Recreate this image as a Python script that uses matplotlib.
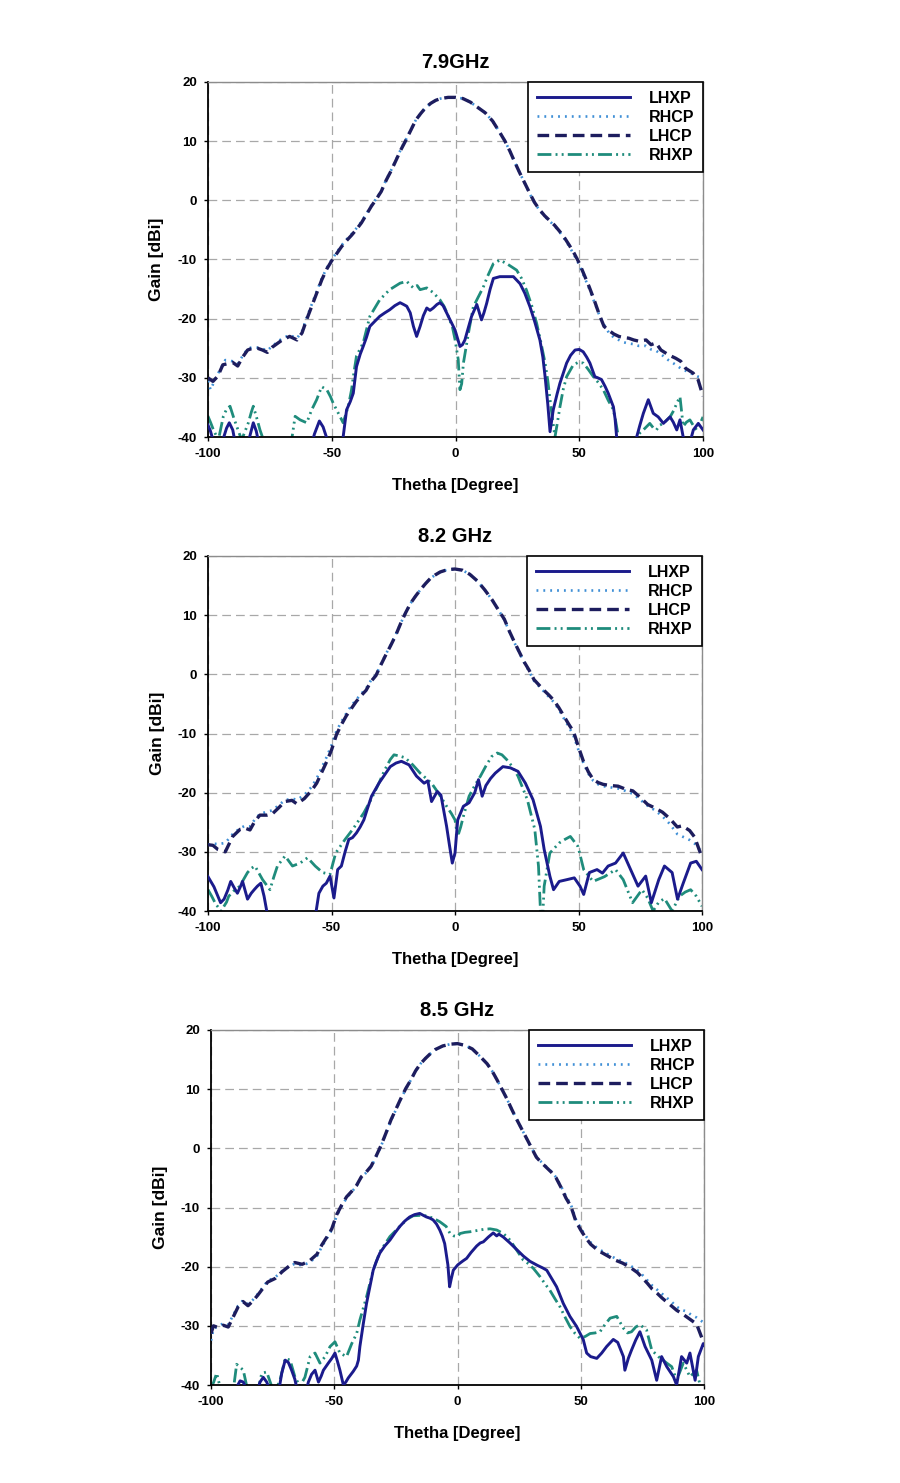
import matplotlib
matplotlib.use("Agg")
import matplotlib.pyplot as plt
from matplotlib.lines import Line2D

# ---------------- data ----------------
titles = ["7.9GHz", "8.2 GHz", "8.5 GHz"]
series_names = ["LHXP", "RHCP", "LHCP", "RHXP"]
x_ticks = [-100, -50, 0, 50, 100]
y_ticks = [-40, -30, -20, -10, 0, 10, 20]

# ---- 7.9 GHz ----
f79_lhcp_theta = [-100, -98, -96, -94, -92, -90, -88, -86, -84, -82, -80, -78, -76, -74, -72, -70, -67, -64, -62, -60,
                  -58, -56, -54, -52, -50, -48, -46, -44, -42, -40, -38, -36, -34, -32, -30, -28, -26, -24, -22, -20,
                  -18, -16, -14, -12, -10, -8, -6, -3, 0, 3, 6, 9, 12, 15, 18, 20, 22, 24, 26, 28, 30, 32, 34, 36, 38,
                  40, 42, 44, 46, 48, 50, 52, 54, 56, 58, 60, 62, 64, 66, 68, 70, 72, 74, 77, 79, 81, 83, 86, 89, 91,
                  93, 96, 98, 100]
f79_lhcp_gain = [-30.0, -30.6, -29.7, -27.8, -27.6, -27.4, -28.0, -26.5, -25.3, -25.0, -25.0, -25.3, -25.7, -24.8,
                 -24.2, -23.6, -23.0, -23.6, -22.4, -20.0, -17.8, -15.6, -13.4, -11.6, -10.2, -9.0, -7.8, -6.8, -5.9,
                 -4.9, -3.8, -2.4, -1.0, 0.2, 1.5, 3.4, 5.0, 6.8, 8.6, 10.2, 11.9, 13.6, 14.7, 15.7, 16.4, 16.9, 17.2,
                 17.4, 17.4, 17.2, 16.6, 15.7, 14.8, 13.4, 11.4, 10.0, 8.3, 6.4, 4.6, 2.9, 1.2, -0.4, -1.6, -2.6, -3.4,
                 -4.2, -5.2, -6.3, -7.6, -9.0, -10.6, -12.6, -14.6, -16.8, -19.2, -21.3, -22.0, -22.6, -23.0, -23.2,
                 -23.3, -23.6, -23.8, -23.6, -24.4, -24.1, -25.3, -26.1, -26.7, -27.2, -28.4, -29.2, -30.3, -33.1]
f79_rhcp_theta = [-100, -99, -97, -95, -93, -90, -88, -86, -84, -82, -80, -78, -76, -74, -72, -70, -67, -64, -62, -60,
                  -58, -56, -54, -52, -50, -48, -46, -44, -42, -40, -38, -36, -34, -32, -30, -28, -26, -24, -22, -20,
                  -18, -16, -14, -12, -10, -8, -6, -3, 0, 3, 6, 9, 12, 15, 18, 20, 22, 24, 26, 28, 30, 32, 34, 36, 38,
                  40, 42, 44, 46, 48, 50, 52, 54, 56, 58, 60, 62, 64, 66, 68, 70, 72, 74, 77, 79, 81, 83, 86, 89, 91,
                  93, 96, 98, 100]
f79_rhcp_gain = [-30.5, -32.0, -30.2, -28.5, -27.0, -27.2, -27.6, -26.3, -25.1, -24.8, -24.9, -25.1, -25.4, -24.6,
                 -24.0, -23.3, -22.8, -23.3, -22.1, -19.7, -17.5, -15.3, -13.2, -11.4, -10.0, -8.8, -7.6, -6.6, -5.7,
                 -4.7, -3.6, -2.3, -0.9, 0.3, 1.6, 3.5, 5.1, 6.9, 8.7, 10.3, 12.0, 13.6, 14.7, 15.7, 16.4, 16.9, 17.2,
                 17.4, 17.4, 17.2, 16.6, 15.7, 14.8, 13.4, 11.4, 10.0, 8.3, 6.4, 4.6, 2.9, 1.1, -0.5, -1.7, -2.7, -3.5,
                 -4.3, -5.3, -6.5, -7.8, -9.3, -10.9, -12.9, -14.9, -17.1, -19.3, -21.0, -22.4, -23.2, -23.6, -24.0,
                 -24.2, -24.3, -24.6, -24.6, -25.2, -25.4, -26.0, -27.0, -27.8, -28.4, -28.8, -29.4, -29.8, -30.0]
f79_lhxp_theta = [-100, -99, -98, -96, -94, -92.5, -91.4, -90, -89, -86, -83.5, -81.7, -80.5, -79.5, -70, -58, -57,
                  -55, -53.5, -52, -50, -46, -45.4, -44, -42.5, -41.3, -40, -38.5, -37.3, -36, -34.6, -32.5, -30.6,
                  -28.5, -26.6, -24.5, -22.4, -21, -19.7, -18.3, -17, -15.7, -14.3, -13, -11.6, -10.3, -9, -7.5, -6.3,
                  -5, -3.6, -2.2, -0.2, 1.8, 2.8, 3.8, 5.2, 6.5, 8.6, 9.5, 10.5, 11.5, 12.6, 14, 15.3, 17.9, 20.5,
                  23.4, 26.1, 28, 30.1, 32, 34.1, 35.3, 36.2, 37.3, 38.2, 39.5, 41, 42.2, 44.9, 46.5, 48.3, 50, 51.6,
                  53, 54.3, 56.3, 57.5, 59, 60.5, 61.7, 63.8, 64.5, 65.1, 66, 72, 73.2, 74.5, 75.9, 77.9, 79.9, 81.9,
                  84, 86.7, 88, 89.4, 90.7, 92, 93.5, 95, 96.1, 98.1, 100]
f79_lhxp_gain = [-38.0, -39.0, -40.5, -42.0, -40.5, -38.5, -37.6, -38.8, -41.0, -43.0, -40.5, -37.6, -39.0, -41.0,
                 -45.0, -41.0, -39.5, -37.3, -38.3, -40.2, -42.0, -42.0, -40.0, -35.4, -34.0, -32.6, -28.1, -26.0,
                 -24.7, -23.2, -21.3, -20.4, -19.6, -19.0, -18.5, -17.8, -17.3, -17.6, -17.9, -19.0, -21.3, -23.0,
                 -21.3, -19.5, -18.2, -18.6, -18.2, -17.6, -17.3, -17.8, -19.0, -20.2, -21.9, -24.7, -24.4, -23.6,
                 -21.5, -19.6, -17.6, -18.8, -20.2, -19.0, -17.4, -15.0, -13.2, -12.9, -12.9, -12.9, -14.1, -15.7,
                 -18.0, -20.5, -23.6, -26.5, -29.8, -34.5, -39.1, -35.4, -32.8, -30.9, -27.5, -26.2, -25.3, -25.2,
                 -25.6, -26.5, -27.5, -29.8, -30.0, -30.3, -31.5, -32.6, -34.9, -37.0, -40.0, -43.0, -43.0, -40.0,
                 -38.0, -36.0, -33.7, -36.0, -36.6, -37.7, -36.6, -37.5, -38.8, -37.1, -40.0, -41.0, -40.5, -38.8,
                 -37.7, -38.8]
f79_rhxp_theta = [-100, -99, -97.8, -95.8, -94.8, -93.8, -92.5, -91.1, -89.8, -88.4, -86.4, -85, -83.7, -82.5, -81.7,
                  -80.3, -79, -77.6, -76, -68, -66.2, -64.8, -62.8, -60.1, -58.1, -56.1, -54.1, -52, -50.5, -49.4,
                  -46.7, -45.4, -43.3, -42, -41, -40, -37.3, -34.6, -30.6, -26.6, -22.4, -19.7, -18.3, -17, -15.5,
                  -14.3, -11.6, -9, -6.3, -4.5, -2.9, -1.2, -0.2, 0.5, 1.1, 1.8, 2.5, 3.2, 5.2, 7.2, 9, 11.2, 13,
                  15.3, 17.9, 20.7, 24.7, 26.7, 28.7, 30.8, 32.8, 34.5, 36.2, 37.3, 38.2, 39.2, 40.2, 41.2, 42.2,
                  43.5, 44.9, 47.6, 49.5, 51.6, 53.5, 55.7, 57.7, 59.7, 61.7, 63.8, 64.8, 65.8, 67, 70.5, 72.5, 74,
                  75.9, 78.5, 80, 81.2, 82.5, 84, 86.7, 88.2, 89.4, 90.7, 92, 93.3, 94.7, 96, 97.4, 98.8, 100]
f79_rhxp_gain = [-36.5, -37.5, -38.8, -40.5, -38.5, -36.5, -35.3, -34.8, -36.5, -38.2, -40.5, -39.0, -37.6, -35.8,
                 -34.8, -36.8, -38.8, -40.5, -43.0, -43.0, -40.5, -36.5, -37.1, -37.6, -35.4, -33.7, -31.5, -32.0,
                 -33.2, -34.3, -36.5, -37.6, -34.8, -32.0, -29.0, -26.3, -24.1, -19.6, -16.8, -15.1, -14.0, -13.7,
                 -14.3, -14.8, -14.4, -15.1, -14.8, -15.6, -16.8, -18.0, -19.6, -21.5, -23.5, -25.3, -26.9, -32.0,
                 -31.0, -27.5, -22.5, -18.0, -16.5, -14.7, -12.8, -10.7, -10.1, -10.7, -11.8, -13.2, -15.2, -17.8,
                 -20.8, -24.0, -27.5, -30.5, -33.7, -37.0, -40.0, -37.5, -34.9, -32.0, -29.8, -27.8, -27.4, -27.5,
                 -28.5, -29.8, -30.8, -32.0, -33.8, -35.4, -37.5, -40.0, -42.0, -41.0, -40.3, -39.5, -38.8, -37.7,
                 -38.5, -38.8, -38.0, -37.7, -36.6, -35.5, -34.3, -33.2, -38.2, -37.5, -37.1, -38.0, -38.8, -37.8,
                 -36.6]

# ---- 8.2 GHz ----
f82_lhcp_theta = [-100, -98, -96, -93, -90, -87, -85, -83, -81, -79, -76, -74, -71, -69, -66, -64, -61, -58, -56, -54,
                  -52, -50, -48, -46, -44, -42, -40, -38, -36, -34, -32, -30, -28, -26, -24, -22, -20, -18, -16, -14,
                  -12, -10, -8, -6, -3, 0, 3, 6, 9, 12, 15, 18, 20, 22, 24, 26, 28, 30, 32, 34, 36, 38, 40, 42, 44,
                  46, 48, 50, 52, 54, 56, 58, 60, 63, 66, 69, 72, 75, 78, 81, 84, 87, 90, 92, 95, 97, 99, 100]
f82_lhcp_gain = [-28.8, -28.9, -29.6, -30.0, -27.4, -26.2, -26.0, -26.3, -24.8, -23.8, -23.8, -23.6, -22.4, -21.5,
                 -21.3, -21.9, -21.0, -19.6, -18.4, -16.6, -14.8, -12.8, -10.2, -8.5, -7.0, -5.8, -4.6, -3.6, -2.7,
                 -1.2, -0.2, 1.6, 3.3, 4.9, 6.6, 8.6, 10.4, 12.0, 13.2, 14.3, 15.3, 16.2, 16.8, 17.3, 17.7, 17.8, 17.6,
                 16.9, 15.8, 14.3, 12.6, 10.6, 9.3, 7.3, 5.5, 3.8, 2.1, 0.7, -0.9, -1.8, -2.7, -3.5, -4.4, -5.6, -7.0,
                 -8.4, -9.7, -12.3, -14.7, -16.5, -17.8, -18.3, -18.6, -18.8, -18.9, -19.4, -19.7, -20.8, -22.0,
                 -22.6, -23.3, -24.4, -25.8, -25.6, -26.4, -27.5, -29.8, -31.0]
f82_rhcp_theta = [-100, -98, -96, -93, -90, -87, -85, -83, -81, -79, -76, -74, -71, -69, -66, -64, -61, -58, -56, -54,
                  -52, -50, -48, -46, -44, -42, -40, -38, -36, -34, -32, -30, -28, -26, -24, -22, -20, -18, -16, -14,
                  -12, -10, -8, -6, -3, 0, 3, 6, 9, 12, 15, 18, 20, 22, 24, 26, 28, 30, 32, 34, 36, 38, 40, 42, 44,
                  46, 48, 50, 52, 54, 56, 58, 60, 63, 66, 69, 72, 75, 78, 81, 84, 87, 90, 92, 95, 97, 99, 100]
f82_rhcp_gain = [-28.8, -28.6, -28.7, -28.5, -27.0, -26.0, -25.6, -25.7, -24.5, -23.6, -23.2, -23.0, -22.0, -21.3,
                 -21.0, -21.2, -20.4, -19.0, -17.6, -15.8, -14.0, -12.0, -9.6, -8.0, -6.6, -5.3, -4.3, -3.3, -2.4,
                 -1.0, -0.1, 1.7, 3.4, 5.0, 6.7, 8.6, 10.4, 12.0, 13.2, 14.3, 15.3, 16.2, 16.8, 17.3, 17.7, 17.8, 17.6,
                 16.9, 15.8, 14.3, 12.6, 10.6, 9.2, 7.2, 5.4, 3.7, 2.0, 0.5, -1.1, -2.0, -2.9, -3.8, -4.7, -5.9, -7.4,
                 -8.8, -10.4, -12.8, -15.0, -16.8, -18.0, -18.6, -18.9, -19.1, -19.3, -19.7, -20.2, -21.2, -22.2,
                 -23.0, -24.0, -25.3, -27.0, -27.4, -28.0, -28.6, -29.6, -30.0]
f82_lhxp_theta = [-100, -97.6, -96, -94.9, -93.5, -92, -90.8, -89.5, -88.1, -87, -86, -85, -84, -82.5, -81.3, -80,
                  -78.6, -77.3, -76, -74, -58, -56.4, -55.1, -53.5, -52.1, -50.6, -49, -47.5, -46, -44.5, -43,
                  -41.5, -39.9, -38.4, -36.9, -35.3, -33.8, -30.8, -28.5, -26.2, -23.9, -21.7, -18.6, -15.6, -12.5,
                  -11, -9.5, -7.2, -5.7, -3.4, -2.2, -1.1, 0, 1.1, 3.4, 5.7, 8, 9.5, 11, 12.5, 14.4, 16.3, 19.4,
                  22.4, 25.5, 28.5, 31.6, 34.6, 36.1, 38.4, 39.9, 42.2, 45.3, 48.3, 50.6, 52.1, 54.4, 57.5, 59.7,
                  62, 65, 68.1, 71.1, 74.1, 77.2, 79.5, 82.5, 84.8, 87.9, 90.1, 92.4, 95.4, 97.7, 100]
f82_lhxp_gain = [-34.2, -35.9, -37.5, -38.6, -38.0, -36.5, -35.0, -36.0, -37.0, -36.0, -35.0, -36.5, -38.0, -37.0,
                 -36.4, -35.8, -35.3, -37.5, -40.5, -44.0, -44.0, -40.5, -37.0, -35.8, -35.3, -34.1, -37.8, -33.0,
                 -32.4, -30.0, -27.9, -27.6, -26.8, -25.8, -24.6, -22.5, -20.6, -18.4, -17.0, -15.6, -15.0, -14.7,
                 -15.3, -17.2, -18.4, -18.0, -21.5, -19.8, -20.4, -25.7, -29.0, -31.9, -30.2, -24.6, -22.3, -21.7,
                 -20.0, -17.8, -20.6, -18.8, -17.6, -16.7, -15.6, -15.8, -16.4, -18.4, -21.2, -25.7, -29.6, -34.1,
                 -36.4, -35.0, -34.7, -34.4, -35.8, -37.2, -33.5, -33.0, -33.6, -32.4, -31.9, -30.2, -33.0, -35.8,
                 -34.1, -38.6, -34.7, -32.4, -33.5, -38.0, -35.3, -31.9, -31.6, -33.0]
f82_rhxp_theta = [-100, -98.5, -96.9, -94.7, -92.5, -91.6, -89.5, -87.1, -85.5, -84, -82.5, -81, -77.9, -74.9,
                  -73.4, -71.9, -68.8, -65.8, -62.7, -59.7, -56.6, -53.6, -50.6, -48.3, -44.5, -41.4, -36.9, -33.8,
                  -30.8, -28.5, -26.2, -24.7, -22.5, -20.2, -17.1, -14.1, -9.5, -6.5, -3.4, -1.5, 0, 1.1, 2.3, 3.4,
                  5.7, 8, 10.3, 12.5, 14.8, 17.1, 19, 20.9, 23.2, 25.5, 29.3, 32.3, 33.8, 34.6, 35.4, 36.1, 38.4,
                  42.2, 44.5, 46.7, 49.8, 52.1, 55.9, 60.5, 65, 68.1, 71.9, 75.7, 78, 80.2, 82.5, 84.8, 87.9, 90.9,
                  93.2, 95.4, 97.7, 100]
f82_rhxp_gain = [-36.4, -37.5, -38.8, -40.0, -38.5, -37.5, -36.6, -35.8, -34.6, -33.5, -32.8, -32.4, -34.7, -36.4,
                 -34.3, -32.4, -30.7, -32.4, -31.9, -31.0, -32.4, -33.5, -33.8, -30.2, -27.9, -26.2, -23.4, -21.0,
                 -18.4, -16.2, -14.4, -13.6, -13.8, -14.1, -15.3, -16.7, -18.4, -20.2, -22.3, -23.5, -24.6, -27.4,
                 -25.8, -24.0, -20.6, -18.8, -17.2, -15.5, -13.9, -13.3, -13.6, -14.4, -15.6, -17.2, -21.2, -26.2,
                 -32.4, -40.0, -42.0, -35.8, -30.2, -28.5, -27.9, -27.4, -29.1, -33.0, -35.0, -34.2, -33.0, -34.7,
                 -38.6, -36.4, -37.8, -40.0, -38.5, -37.9, -40.0, -37.5, -36.8, -36.4, -37.5, -39.2]

# ---- 8.5 GHz ----
f85_lhcp_theta = [-100, -99, -97, -95, -93, -91, -89, -87, -85, -83, -81, -79, -77, -74, -71, -68, -66, -63, -60, -57,
                  -55, -53, -51, -49, -47, -45, -43, -41, -39, -37, -35, -33, -31, -29, -27, -25, -23, -21, -19, -17,
                  -15, -13, -11, -9, -6, -3, 0, 3, 6, 9, 12, 14, 16, 18, 20, 22, 24, 26, 28, 30, 32, 34, 36, 38, 40,
                  42, 44, 46, 48, 50, 52, 54, 56, 58, 61, 64, 67, 70, 73, 75, 77, 79, 81, 83, 85, 87, 89, 91, 93, 95,
                  97, 99, 100]
f85_lhcp_gain = [-31.3, -30.0, -30.3, -29.9, -30.2, -28.5, -26.8, -25.9, -26.6, -25.8, -24.8, -23.7, -22.6, -22.0,
                 -20.8, -19.8, -19.3, -19.6, -19.0, -17.9, -16.3, -15.0, -13.6, -11.2, -9.6, -8.2, -7.3, -6.3, -4.8,
                 -4.0, -3.0, -1.3, 0.5, 2.6, 4.8, 6.6, 8.4, 10.1, 11.5, 13.1, 14.3, 15.2, 16.0, 16.7, 17.3, 17.6, 17.7,
                 17.4, 16.8, 15.6, 14.3, 13.1, 11.6, 10.0, 8.4, 6.6, 4.9, 3.3, 1.7, 0.1, -1.5, -2.4, -3.2, -4.0, -5.0,
                 -6.6, -8.4, -9.8, -12.3, -13.8, -15.1, -16.2, -16.9, -17.5, -18.2, -18.9, -19.4, -20.1, -21.0, -21.9,
                 -22.8, -23.8, -24.5, -25.3, -26.0, -26.7, -27.4, -27.9, -28.5, -29.1, -29.7, -31.9, -33.0]
f85_rhcp_theta = [-100, -99, -97, -95, -93, -91, -89, -87, -85, -83, -81, -79, -77, -74, -71, -68, -66, -63, -60, -57,
                  -55, -53, -51, -49, -47, -45, -43, -41, -39, -37, -35, -33, -31, -29, -27, -25, -23, -21, -19, -17,
                  -15, -13, -11, -9, -6, -3, 0, 3, 6, 9, 12, 14, 16, 18, 20, 22, 24, 26, 28, 30, 32, 34, 36, 38, 40,
                  42, 44, 46, 48, 50, 52, 54, 56, 58, 61, 64, 67, 70, 73, 75, 77, 79, 81, 83, 85, 87, 89, 91, 93, 95,
                  97, 99, 100]
f85_rhcp_gain = [-32.5, -30.5, -30.0, -29.6, -29.8, -28.2, -26.6, -25.7, -26.3, -25.6, -24.6, -23.5, -22.4, -21.8,
                 -20.7, -19.9, -19.5, -19.8, -19.3, -18.2, -16.6, -15.2, -13.8, -11.4, -9.8, -8.4, -7.4, -6.4, -4.9,
                 -4.1, -3.1, -1.4, 0.4, 2.5, 4.7, 6.5, 8.3, 10.0, 11.5, 13.1, 14.3, 15.2, 16.0, 16.7, 17.3, 17.6, 17.7,
                 17.4, 16.8, 15.6, 14.3, 13.1, 11.6, 10.0, 8.4, 6.6, 4.9, 3.3, 1.7, 0.1, -1.4, -2.3, -3.1, -3.9, -4.9,
                 -6.4, -8.1, -9.5, -12.0, -13.5, -14.8, -15.9, -16.6, -17.2, -17.9, -18.6, -19.1, -19.8, -20.6, -21.4,
                 -22.3, -23.2, -23.9, -24.6, -25.3, -26.0, -26.8, -27.3, -27.6, -28.2, -28.6, -29.2, -29.5]
f85_lhxp_theta = [-100, -98, -92, -89.5, -88.2, -86.9, -85.5, -82, -80.1, -78.8, -77.4, -76, -72.5, -71.3, -69.9,
                  -68.6, -67.3, -66, -65.2, -62, -60.5, -59.2, -57.8, -56.4, -55.3, -54.4, -52.4, -51, -49.7, -48.7,
                  -47.7, -46.3, -45.3, -44.3, -42.3, -40.9, -40.2, -39.6, -38.2, -36.9, -35.5, -34.2, -33, -31.5,
                  -29.5, -27.4, -25.4, -23.4, -21.4, -19.4, -17.4, -15.3, -14, -12.6, -11.2, -9.9, -8.5, -7.2, -6.2,
                  -5.2, -3.9, -3.2, -2.5, -1.7, 0.1, 1, 2.3, 3.7, 5.5, 7.8, 9.2, 10.5, 12.5, 14.5, 15.9, 16.8, 18.6,
                  21.3, 24, 26.7, 29.4, 32.5, 34.5, 36.2, 38.2, 40.2, 42.9, 45.6, 48.3, 51, 52.4, 54, 56.5, 58.5,
                  60.5, 63.2, 65, 67.3, 67.9, 69.3, 70.6, 72.3, 74, 76.1, 78.8, 80.8, 82.8, 84.9, 87.6, 88.9, 90.9,
                  93, 94.3, 96.4, 97.7, 99.7, 100]
f85_lhxp_gain = [-40.5, -42.0, -42.0, -40.3, -39.3, -39.5, -41.0, -42.0, -39.5, -38.7, -39.5, -41.0, -41.0, -38.0,
                 -35.8, -36.2, -37.5, -39.0, -40.5, -42.0, -39.5, -38.2, -37.5, -39.5, -38.5, -37.5, -36.3, -35.5,
                 -34.6, -36.0, -37.5, -40.0, -39.5, -38.8, -37.7, -36.8, -35.8, -33.5, -29.6, -26.2, -23.3, -20.6,
                 -19.2, -17.7, -16.5, -15.5, -14.3, -13.2, -12.3, -11.6, -11.2, -11.0, -11.3, -11.6, -11.8, -12.1,
                 -12.8, -13.8, -14.8, -16.1, -19.7, -23.4, -22.0, -20.6, -19.7, -19.4, -19.0, -18.6, -17.6, -16.5,
                 -16.0, -15.8, -15.0, -14.3, -14.8, -14.5, -15.0, -16.0, -17.1, -18.2, -19.1, -19.8, -20.2, -20.6,
                 -22.0, -23.4, -26.2, -28.4, -30.1, -32.3, -34.6, -35.2, -35.5, -34.6, -33.5, -32.3, -32.8, -35.2,
                 -37.5, -35.5, -34.1, -32.4, -31.0, -33.5, -35.8, -39.2, -35.2, -36.9, -38.6, -40.0, -35.2, -36.3,
                 -34.6, -39.2, -35.2, -33.0, -33.2]
f85_rhxp_theta = [-100, -98.9, -97.7, -96.4, -95, -91, -89.6, -88.2, -86.9, -85.5, -84, -81, -79.4, -77.4, -75.4, -74,
                  -72, -69.9, -67.9, -65.9, -63.9, -61.9, -59.8, -57.8, -55.8, -53.7, -51.7, -49.7, -47.7, -45,
                  -42.9, -40.9, -39.6, -36.9, -34.2, -31.5, -27.4, -23.4, -20.5, -18, -14, -12, -9.9, -7.2, -4.6, -3,
                  -1.5, 0.1, 1, 3, 5.1, 7.8, 10.5, 13.2, 15.9, 18.6, 21.3, 24, 26.7, 28.8, 30.8, 33.5, 35.5, 37.5,
                  39.5, 41.6, 43.6, 45.6, 47.7, 49.7, 51.8, 53.8, 55.8, 57.8, 59.8, 61.9, 64.6, 67.3, 69, 70.6, 72.3,
                  74, 76.7, 78.8, 81.5, 84.9, 86.9, 88.9, 91.6, 94.3, 97, 98.4, 100]
f85_rhxp_gain = [-40.5, -39.5, -38.0, -40.2, -42.0, -41.0, -36.5, -37.0, -37.5, -40.2, -42.0, -41.0, -38.0, -37.8,
                 -40.2, -41.0, -39.2, -35.5, -35.8, -38.7, -40.2, -38.7, -35.2, -34.6, -36.3, -35.2, -33.5, -32.7,
                 -34.6, -35.2, -33.0, -31.3, -29.0, -25.1, -20.6, -17.5, -14.9, -13.2, -12.0, -11.4, -11.3, -11.5,
                 -11.8, -12.4, -13.2, -14.4, -14.8, -14.9, -14.4, -14.2, -14.1, -13.9, -13.7, -13.6, -13.8, -14.4,
                 -15.5, -17.2, -18.9, -19.5, -20.3, -21.7, -22.9, -24.0, -25.4, -26.8, -28.5, -30.1, -31.3, -32.1,
                 -31.8, -31.3, -31.2, -31.0, -29.8, -28.7, -28.4, -30.4, -31.2, -31.0, -30.2, -29.8, -30.7, -34.1,
                 -35.2, -36.3, -36.9, -39.2, -36.3, -38.6, -37.5, -40.0, -41.0]

panels = [
    {"title": titles[0],
     "LHXP": (f79_lhxp_theta, f79_lhxp_gain), "RHCP": (f79_rhcp_theta, f79_rhcp_gain),
     "LHCP": (f79_lhcp_theta, f79_lhcp_gain), "RHXP": (f79_rhxp_theta, f79_rhxp_gain)},
    {"title": titles[1],
     "LHXP": (f82_lhxp_theta, f82_lhxp_gain), "RHCP": (f82_rhcp_theta, f82_rhcp_gain),
     "LHCP": (f82_lhcp_theta, f82_lhcp_gain), "RHXP": (f82_rhxp_theta, f82_rhxp_gain)},
    {"title": titles[2],
     "LHXP": (f85_lhxp_theta, f85_lhxp_gain), "RHCP": (f85_rhcp_theta, f85_rhcp_gain),
     "LHCP": (f85_lhcp_theta, f85_lhcp_gain), "RHXP": (f85_rhxp_theta, f85_rhxp_gain)},
]

# ---------------- style ----------------
plt.rcParams['font.family'] = ['Liberation Sans', 'DejaVu Sans']
plt.rcParams['font.weight'] = 'bold'
plt.rcParams['axes.unicode_minus'] = False

styles = {
    "LHXP": dict(color="#1b1b8c", lw=2.1, ls="-", zorder=5),
    "RHCP": dict(color="#3f8fd6", lw=1.9, ls=(0, (0.7, 1.9)), zorder=3),
    "LHCP": dict(color="#1d1d5e", lw=2.4, ls=(0, (3.5, 1.8)), zorder=4),
    "RHXP": dict(color="#1f8c7c", lw=2.0, ls=(0, (5, 1.5, 0.7, 1.5, 0.7, 1.5)), zorder=2),
}

positions = [
    [208 / 900, 1 - 437 / 1483, 495 / 900, 355 / 1483],
    [208 / 900, 1 - 911 / 1483, 494 / 900, 355 / 1483],
    [211 / 900, 1 - 1385 / 1483, 493 / 900, 355 / 1483],
]

fig = plt.figure(figsize=(9, 14.83), dpi=100)

for pos, panel in zip(positions, panels):
    ax = fig.add_axes(pos)
    for name in series_names:
        th, g = panel[name]
        st = styles[name]
        ax.plot(th, g, color=st["color"], lw=st["lw"], linestyle=st["ls"], zorder=st["zorder"], label=name)
    ax.set_xlim(-100, 100)
    ax.set_ylim(-40, 20)
    ax.set_xticks(x_ticks)
    ax.set_yticks(y_ticks)
    ax.set_xticklabels([str(v) for v in x_ticks])
    ax.set_yticklabels([str(v) for v in y_ticks])
    ax.grid(True, color="#a8a8a8", linestyle=(0, (7, 4)), lw=0.9, zorder=0)
    ax.set_axisbelow(True)
    ax.tick_params(direction="out", length=3, width=1, labelsize=9.5, pad=5)
    for s in ["left", "bottom"]:
        ax.spines[s].set_color("black")
        ax.spines[s].set_linewidth(1.3)
    for s in ["top", "right"]:
        ax.spines[s].set_color("#8c8c8c")
        ax.spines[s].set_linewidth(1.0)
    ax.set_title(panel["title"], fontsize=14.5, fontweight="bold", pad=10)
    ax.set_xlabel("Thetha [Degree]", fontsize=12, fontweight="bold")
    ax.set_ylabel("Gain [dBi]", fontsize=12.5, fontweight="bold")
    ax.xaxis.set_label_coords(0.5, -0.115)
    ax.yaxis.set_label_coords(-0.088, 0.5)

    handles = [Line2D([0], [0], color=styles[n]["color"], lw=styles[n]["lw"], linestyle=styles[n]["ls"])
               for n in series_names]
    leg = ax.legend(handles, series_names, loc="upper right", bbox_to_anchor=(1, 1), borderaxespad=0,
                    fontsize=11.5, handlelength=5.8, handletextpad=1.2, labelspacing=0.25, borderpad=0.55,
                    fancybox=False, framealpha=1, edgecolor="black")
    leg.get_frame().set_linewidth(1.2)
    leg.set_zorder(10)

fig.savefig("out.png", dpi=100)
